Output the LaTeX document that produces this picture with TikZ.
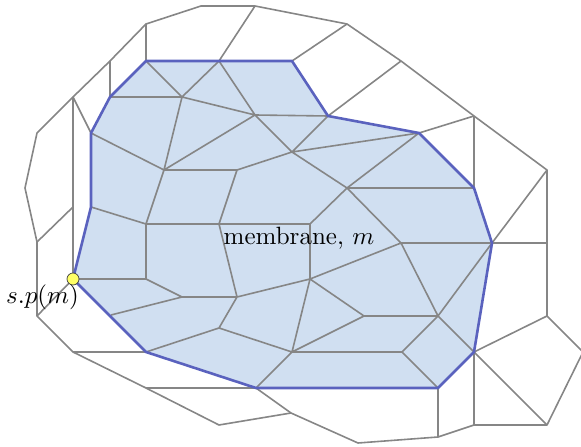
\documentclass[tikz,border=0pt]{standalone}
\tikzset{
  mesh/.style={draw=meshgray,line width=1.6bp,line join=round},
  rim/.style={draw=rimblue,line width=2.6bp,line join=round},
  skin/.style={fill=skinblue},
  spot/.style={circle,draw=black!75,fill=spotyellow,line width=0.7bp,inner sep=0pt,minimum size=12bp},
  lab/.style={inner sep=0pt,scale=2.51,text=black}
}
\definecolor{meshgray}{HTML}{868686}
\definecolor{rimblue}{HTML}{5A62BE}
\definecolor{skinblue}{HTML}{D0DFF1}
\definecolor{spotyellow}{HTML}{FFFF66}
\begin{document}
\begin{tikzpicture}[x=1bp,y=-1bp]
\useasboundingbox (0,0) rectangle (581,447);
\clip (0,0) rectangle (581,447);
% membrane rim
\coordinate (r1) at (73,279);\coordinate (r2) at (91,207);\coordinate (r3) at (91,133);
\coordinate (r4) at (110,97);\coordinate (r5) at (146,61);\coordinate (r6) at (292,61);
\coordinate (r7) at (328,116);\coordinate (r8) at (419,133);\coordinate (r9) at (474,188);
\coordinate (r10) at (492,243);\coordinate (r11) at (474,352);\coordinate (r12) at (438,388);
\coordinate (r13) at (256,388);\coordinate (r14) at (146,352);
% interior
\coordinate (a) at (182,97);\coordinate (b) at (219,61);\coordinate (c) at (255,115);
\coordinate (d) at (164,170);\coordinate (e) at (237,170);\coordinate (f) at (292,152);
\coordinate (g) at (146,224);\coordinate (h) at (347,188);\coordinate (i) at (310,224);
\coordinate (j) at (401,243);\coordinate (k) at (237,297);\coordinate (l) at (182,297);
\coordinate (m) at (146,279);\coordinate (n) at (111,315);\coordinate (o) at (219,328);
\coordinate (p) at (292,352);\coordinate (q) at (310,279);\coordinate (s) at (364,316);
\coordinate (t) at (438,316);\coordinate (u) at (402,352);\coordinate (v) at (219,224);
% outer
\coordinate (x1) at (37,316);\coordinate (x2) at (37,242);\coordinate (x3) at (25,188);
\coordinate (x4) at (37,133);\coordinate (x5) at (73,97);\coordinate (x6) at (110,61);
\coordinate (x7) at (146,24);\coordinate (x8) at (201,6);\coordinate (x9) at (255,6);
\coordinate (x10) at (347,24);\coordinate (x11) at (401,61);\coordinate (x12) at (474,116);
\coordinate (x13) at (547,170);\coordinate (x14) at (547,243);\coordinate (x15) at (547,316);
\coordinate (x16) at (583,352);\coordinate (x17) at (547,425);\coordinate (x18) at (474,425);
\coordinate (x19) at (438,437);\coordinate (x20) at (358,443);\coordinate (x21) at (291,413);
\coordinate (x22) at (219,425);\coordinate (x23) at (146,388);\coordinate (x24) at (73,352);
\coordinate (y1) at (73,207);
% fill
\path[skin] (r1)--(r2)--(r3)--(r4)--(r5)--(r6)--(r7)--(r8)--(r9)--(r10)--(r11)--(r12)--(r13)--(r14)--cycle;
% outer mesh
\draw[mesh] (x1)--(x2)--(x3)--(x4)--(x5)--(x6)--(x7)--(x8)--(x9)--(x10)--(x11)--(x12)--(x13)--(x14)--(x15)--(x16)--(x17)--(x18)--(x19)--(x20)--(x21)--(x22)--(x23)--(x24)--cycle;
\draw[mesh] (x7)--(r5) (x9)--(b) (x10)--(r6) (x11)--(r7) (x12)--(r8) (x12)--(r9) (x13)--(r10) (x14)--(r10)
  (x15)--(r11) (r11)--(x17) (r11)--(x18) (r12)--(x19) (r13)--(x21) (r13)--(x23) (r14)--(x24)
  (r1)--(x1) (r1)--(x5) (x5)--(r3) (x6)--(r4) (y1)--(x2);
% inner mesh
\draw[mesh] (r5)--(a) (b)--(a) (b)--(c) (a)--(c) (r4)--(a) (a)--(d) (c)--(d) (r3)--(d) (d)--(e) (e)--(f)
  (c)--(f) (c)--(r7) (r7)--(f) (f)--(r8) (f)--(h) (h)--(r8) (h)--(r9) (h)--(j) (h)--(i) (i)--(g)
  (e)--(v) (d)--(g) (i)--(q) (v)--(k) (g)--(m) (r2)--(g) (m)--(r1) (m)--(l) (l)--(k) (l)--(n)
  (k)--(o) (o)--(r14) (o)--(p) (k)--(q) (q)--(p) (q)--(s) (s)--(p) (s)--(t) (p)--(u) (u)--(t)
  (u)--(r12) (t)--(r11) (t)--(j) (t)--(r10) (j)--(q) (p)--(r13) (j)--(r10);
% rim
\draw[rim] (r1)--(r2)--(r3)--(r4)--(r5)--(r6)--(r7)--(r8)--(r9)--(r10)--(r11)--(r12)--(r13)--(r14)--cycle;
\node[spot] (sp) at (r1) {};
\node[lab,anchor=base] (mem) at (299,245) {membrane, $m$};
\node[lab,anchor=base] (splab) at (42.5,303) {$s.p(m)$};
\end{tikzpicture}
\end{document}
